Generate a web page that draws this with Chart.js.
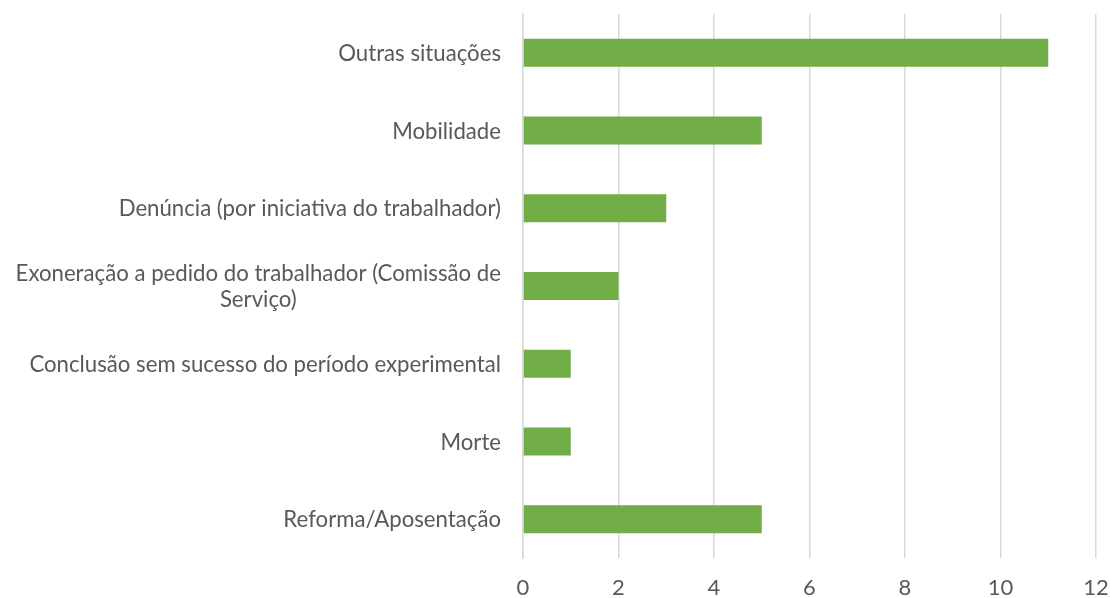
<!DOCTYPE html>
<html>
<head>
<meta charset="utf-8">
<script src="https://cdn.jsdelivr.net/npm/chart.js@4"></script>
<style>
  html, body { margin: 0; padding: 0; background: #fff; overflow: hidden; }
  canvas { display: block; }
</style>
</head>
<body>
<canvas id="chart" width="1110" height="598"></canvas>
<script>
const categories = [
  'Outras situações',
  'Mobilidade',
  'Denúncia (por iniciativa do trabalhador)',
  ['Exoneração a pedido do trabalhador (Comissão de', 'Serviço)'],
  'Conclusão sem sucesso do período experimental',
  'Morte',
  'Reforma/Aposentação'
];
const values = [11, 5, 3, 2, 1, 1, 5];
const xTicks = [0, 2, 4, 6, 8, 10, 12];

const FONT = 'Lato, "Open Sans", sans-serif';
const TEXT = '#595959';

// draw the category labels ourselves so wrapped lines sit centred on each other
const yLabels = {
  id: 'yLabels',
  afterDraw(chart) {
    const { ctx, scales: { y } } = chart;
    ctx.save();
    ctx.font = '22.2px ' + FONT;
    ctx.fillStyle = TEXT;
    ctx.textBaseline = 'middle';
    const right = y.right - 22;
    const lineH = 26;
    categories.forEach((label, i) => {
      const lines = Array.isArray(label) ? label : [label];
      const yc = y.getPixelForValue(i) + 1;
      const widest = Math.max(...lines.map(l => ctx.measureText(l).width));
      const mid = right - widest / 2;
      ctx.textAlign = lines.length > 1 ? 'center' : 'right';
      lines.forEach((l, j) => {
        const ly = yc + (j - (lines.length - 1) / 2) * lineH;
        ctx.fillText(l, lines.length > 1 ? mid : right, ly);
      });
    });
    ctx.restore();
  }
};

new Chart(document.getElementById('chart'), {
  type: 'bar',
  data: {
    labels: categories,
    datasets: [{
      data: values,
      backgroundColor: '#70ad47',
      barPercentage: 0.36,
      categoryPercentage: 1
    }]
  },
  options: {
    indexAxis: 'y',
    responsive: false,
    animation: false,
    layout: { padding: { top: 14, right: 0, bottom: 0, left: 0 } },
    plugins: { legend: { display: false }, tooltip: { enabled: false } },
    scales: {
      x: {
        min: 0,
        max: 12,
        afterBuildTicks: (s) => { s.ticks = xTicks.map(v => ({ value: v })); },
        afterFit: (s) => { s.height = 40; s.paddingLeft = 0; s.paddingRight = 14; },
        grid: { color: '#d9d9d9', lineWidth: 1.5, drawTicks: false },
        border: { display: false },
        ticks: { color: TEXT, font: { family: FONT, size: 22 }, padding: 17 }
      },
      y: {
        afterFit: (s) => { s.width = 523; s.paddingTop = 0; s.paddingBottom = 0; },
        grid: { display: false },
        border: { display: true, color: '#d9d9d9', width: 1.5 },
        ticks: { display: false }
      }
    }
  },
  plugins: [yLabels]
});
</script>
</body>
</html>
